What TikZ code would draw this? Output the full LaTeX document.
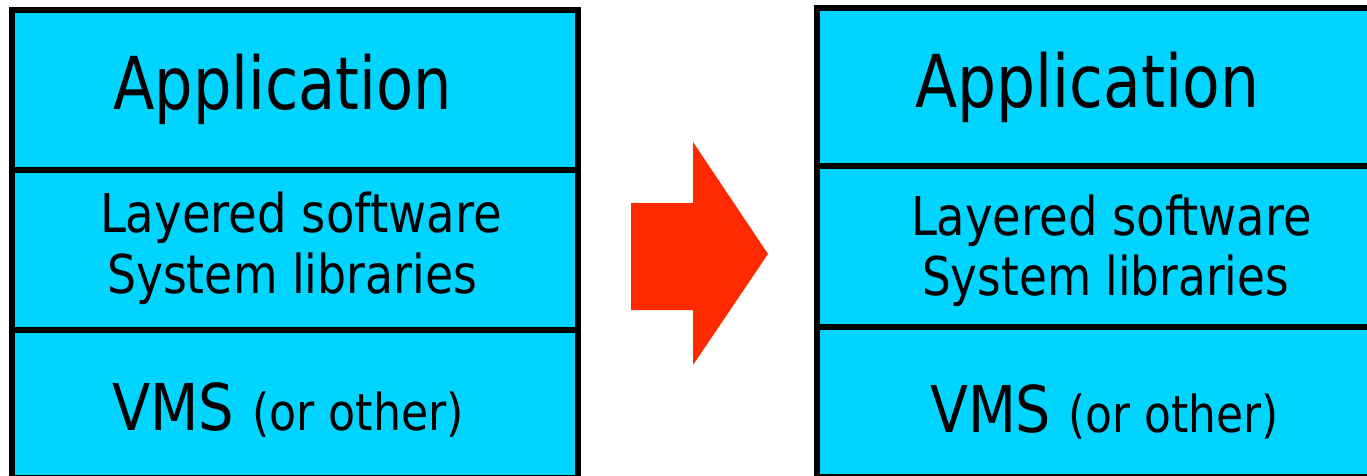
\documentclass[tikz,border=0pt]{standalone}
\usepackage{fontspec}
\setmainfont{DejaVu Sans}
\usepackage{graphicx}
\definecolor{boxcyan}{HTML}{00D4FF}
\definecolor{arrred}{HTML}{FF2A00}
\newcommand{\fitw}[3]{\resizebox{#1pt}{\height}{\fontsize{#2pt}{#2pt}\selectfont #3}}
\newcommand{\vmsline}[1]{\resizebox{#1pt}{\height}{\fontsize{64.5pt}{64.5pt}\selectfont VMS \fontsize{51pt}{51pt}\selectfont(or other)}}
\begin{document}
\begin{tikzpicture}[x=1pt,y=-1pt,
  layer/.style={draw=black, line width=6pt, fill=boxcyan},
  lbl/.style={anchor=base west, inner sep=0pt, outer sep=0pt, text=black}]
\useasboundingbox (0,0) rectangle (1367,476);
\begin{scope}
\clip (0,0) rectangle (1367,476);
% left stack
\path[layer] (12,10) rectangle (578,170);
\path[layer] (12,170) rectangle (578,330);
\path[layer] (12,330) rectangle (578,478);
% right stack
\path[layer] (817,8) rectangle (1372,166);
\path[layer] (817,166) rectangle (1372,327);
\path[layer] (817,327) rectangle (1372,477);
\end{scope}
% arrow
\fill[arrred] (631,203) -- (693,203) -- (693,142) -- (768,254) -- (693,365) -- (693,310) -- (631,310) -- cycle;
% left labels
\node[lbl] (la) at (113,110) {\fitw{339}{73}{Application}};
\node[lbl] (ll) at (100,232) {\fitw{402}{53.5}{Layered software}};
\node[lbl] (ls) at (107,293) {\fitw{370}{53.5}{System libraries}};
\node[lbl] (lv) at (112,430) {\vmsline{352}};
% right labels
\node[lbl] (ra) at (915,108) {\fitw{344}{73}{Application}};
\node[lbl] (rl) at (911,235) {\fitw{401}{53.5}{Layered software}};
\node[lbl] (rs) at (922,295) {\fitw{367}{53.5}{System libraries}};
\node[lbl] (rv) at (930,432) {\vmsline{349}};
\end{tikzpicture}
\end{document}
